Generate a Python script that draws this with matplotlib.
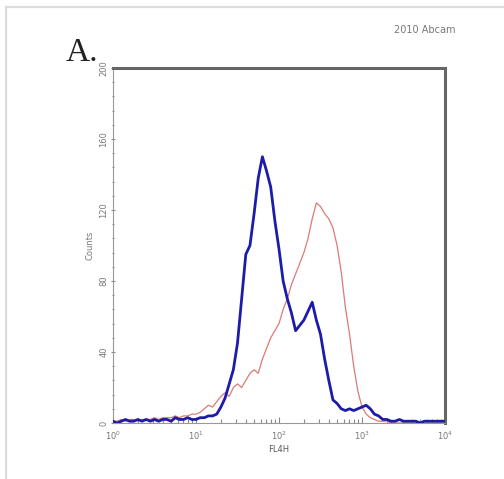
import matplotlib
matplotlib.use("Agg")
import matplotlib.pyplot as plt
import numpy as np
from matplotlib.ticker import MultipleLocator, FixedLocator, NullFormatter
from matplotlib.lines import Line2D

# ---- data (log10 of FL4-H, counts) ----
log_fl4 = [0.00, 0.05, 0.10, 0.15, 0.20, 0.25, 0.30, 0.35, 0.40, 0.45,
           0.50, 0.55, 0.60, 0.65, 0.70, 0.75, 0.80, 0.85, 0.90, 0.95,
           1.00, 1.05, 1.10, 1.15, 1.20, 1.25, 1.30, 1.35, 1.40, 1.45,
           1.50, 1.55, 1.60, 1.65, 1.70, 1.75, 1.80, 1.85, 1.90, 1.95,
           2.00, 2.05, 2.10, 2.15, 2.20, 2.25, 2.30, 2.35, 2.40, 2.45,
           2.50, 2.55, 2.60, 2.65, 2.70, 2.75, 2.80, 2.85, 2.90, 2.95,
           3.00, 3.05, 3.10, 3.15, 3.20, 3.25, 3.30, 3.35, 3.40, 3.45,
           3.50, 3.55, 3.60, 3.65, 3.70, 3.75, 3.80, 3.85, 3.90, 3.95, 4.00]

blue_counts = [1, 0, 1, 2, 1, 1, 2, 1, 2, 1,
               2, 1, 2, 2, 1, 3, 2, 2, 3, 2,
               2, 3, 3, 4, 4, 5, 9, 14, 22, 30,
               45, 70, 95, 100, 118, 138, 150, 142, 133, 114,
               98, 80, 70, 62, 52, 55, 58, 63, 68, 58,
               50, 36, 24, 13, 11, 8, 7, 8, 7, 8,
               9, 10, 8, 5, 4, 2, 2, 1, 1, 2,
               1, 1, 1, 1, 0, 1, 1, 1, 1, 1, 1]

red_counts = [1, 1, 2, 1, 2, 2, 1, 2, 2, 2,
              3, 2, 3, 3, 3, 4, 3, 4, 4, 5,
              5, 6, 8, 10, 9, 12, 15, 17, 15, 20,
              22, 20, 24, 28, 30, 28, 36, 42, 48, 52,
              56, 64, 70, 78, 84, 90, 96, 104, 115, 124,
              122, 118, 115, 110, 100, 85, 65, 50, 32, 18,
              9, 5, 3, 2, 1, 1, 1, 0, 0, 0,
              0, 0, 0, 0, 0, 0, 0, 0, 0, 0, 0]

fl4 = 10 ** np.array(log_fl4)

fig = plt.figure(figsize=(5.04, 4.79), dpi=100)
fig.patch.set_facecolor("white")

# light frame lines (top & left)
fig.add_artist(Line2D([5.5/504, 1.0], [1 - 7/479, 1 - 7/479],
                      transform=fig.transFigure, color="#dcdcdc", lw=1.6))
fig.add_artist(Line2D([6/504, 6/504], [0.0, 1 - 7/479],
                      transform=fig.transFigure, color="#dcdcdc", lw=1.6))

ax = fig.add_axes([113/504, (479-423)/479, 332/504, 355/479])
ax.plot(fl4, red_counts, color="#dc7a74", lw=0.9, zorder=2)
ax.plot(fl4, blue_counts, color="#1c1ca8", lw=2.0, zorder=3)

ax.set_xscale("log")
ax.set_xlim(1, 1e4)
ax.set_ylim(0, 200)

ax.yaxis.set_major_locator(MultipleLocator(40))
ax.yaxis.set_minor_locator(MultipleLocator(8))
ax.xaxis.set_major_locator(FixedLocator([1, 10, 100, 1000, 10000]))
ax.xaxis.set_minor_locator(FixedLocator(
    [m * d for d in [1, 10, 100, 1000] for m in range(2, 10)]))
ax.xaxis.set_minor_formatter(NullFormatter())
ax.set_xticklabels([r"$10^0$", r"$10^1$", r"$10^2$", r"$10^3$", r"$10^4$"])

for lab in ax.get_yticklabels():
    lab.set_rotation(90)
    lab.set_va("center")

ax.tick_params(axis="both", which="both", colors="#888888",
               labelcolor="#777777", labelsize=6, width=0.8)
ax.tick_params(axis="y", which="major", direction="inout", length=3, pad=2)
ax.tick_params(axis="y", which="minor", direction="inout", length=2)
ax.tick_params(axis="x", which="major", direction="in", length=4, pad=5)
ax.tick_params(axis="x", which="minor", direction="in", length=3)

for s in ["left", "bottom"]:
    ax.spines[s].set_color("#999999")
    ax.spines[s].set_linewidth(0.8)
for s in ["top", "right"]:
    ax.spines[s].set_color("#666666")
    ax.spines[s].set_linewidth(2.2)

ax.set_ylabel("Counts", fontsize=6, color="#777777", labelpad=3)
ax.set_xlabel("FL4H", fontsize=6, color="#555555", labelpad=2)

fig.text(82/504, 1 - 53/479, "A.", fontsize=24, family="Liberation Serif",
         color="#222222", ha="center", va="center")
fig.text(425/504, 1 - 30/479, "2010 Abcam", fontsize=7, color="#777777",
         ha="center", va="center")

fig.savefig("out.png", dpi=100, facecolor="white")
